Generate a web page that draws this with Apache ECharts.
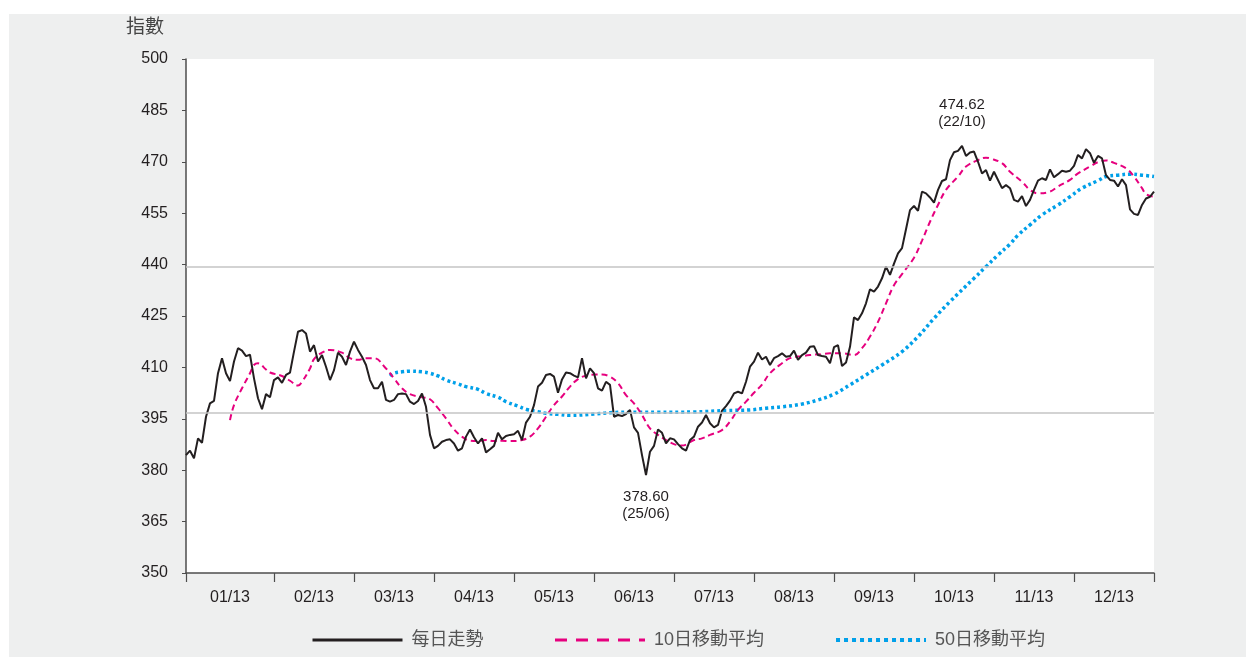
<!DOCTYPE html>
<html>
<head>
<meta charset="utf-8">
<script src="https://cdn.jsdelivr.net/npm/echarts@6/dist/echarts.min.js"></script>
<style>
  body { margin: 0; background: #fff; }
  #chart { position: absolute; left: 9px; top: 14px; width: 1237px; height: 643px; background: #eeefef; }
</style>
</head>
<body>
<div id="chart"></div>
<script>
// 月份標籤
const months = ['01/13', '02/13', '03/13', '04/13', '05/13', '06/13', '07/13', '08/13', '09/13', '10/13', '11/13', '12/13']

// 每日走勢 (按月)
const jan = [384.4, 385.7, 383.5, 389.3, 388.0, 395.6, 399.5, 400.2, 408.3, 412.7, 408.3, 406.0, 411.7, 415.6, 414.9, 413.3, 413.7, 406.8, 401.0, 397.8, 402.2, 401.3]
const feb = [406.3, 407.1, 405.5, 407.8, 408.5, 414.6, 420.4, 420.9, 419.9, 414.6, 416.5, 411.7, 413.6, 410.2, 406.3, 409.2, 414.3, 413.1, 410.7, 414.6]
const mar = [417.5, 415.1, 413.1, 410.7, 406.3, 403.9, 403.9, 405.8, 400.5, 400.0, 400.5, 402.2, 402.4, 402.2, 400.0, 399.3, 400.2, 402.4, 398.5, 390.3]
const apr = [386.4, 387.1, 388.3, 388.8, 389.0, 387.8, 385.7, 386.4, 389.8, 391.9, 389.6, 387.8, 389.3, 385.2, 386.1, 387.1, 390.9, 389.0, 390.0, 390.3]
const may = [390.5, 391.5, 388.8, 393.9, 395.6, 399.0, 404.4, 405.5, 407.8, 408.1, 407.3, 402.6, 406.5, 408.5, 408.3, 407.6, 407.1, 412.7, 406.8, 409.7]
const jun = [408.3, 403.9, 403.2, 405.8, 404.9, 395.6, 396.1, 395.8, 396.4, 397.6, 392.5, 390.9, 384.4, 378.6, 385.4, 387.1, 391.9, 390.9, 387.8, 389.3]
const jul = [389.0, 387.6, 386.4, 385.7, 388.8, 389.8, 392.7, 393.9, 396.1, 393.7, 392.5, 393.2, 397.4, 398.7, 400.3, 402.4, 402.9, 402.4, 405.8, 410.2]
const aug = [411.7, 414.3, 412.3, 413.1, 410.7, 412.7, 413.3, 414.1, 413.1, 413.3, 414.9, 412.2, 413.6, 414.3, 416.0, 416.2, 413.6, 413.3, 413.1, 411.2]
const sep = [415.9, 416.5, 410.4, 411.4, 416.0, 424.6, 423.8, 425.8, 428.7, 432.8, 432.1, 433.6, 436.0, 439.4, 437.0, 440.3, 443.3, 444.8, 450.3, 455.9]
const oct = [457.1, 455.7, 461.3, 460.8, 459.6, 458.1, 461.8, 464.4, 464.9, 470.5, 472.8, 473.2, 474.62, 471.7, 472.7, 473.0, 470.0, 466.6, 467.6, 464.5]
const nov = [467.1, 464.7, 462.3, 463.2, 462.3, 458.9, 458.4, 460.0, 457.1, 458.9, 461.8, 464.5, 465.2, 464.7, 467.8, 465.5, 466.4, 467.4, 467.1, 467.4]
const dec = [468.8, 472.0, 471.0, 473.7, 472.5, 469.7, 471.7, 471.0, 466.1, 464.7, 464.5, 462.8, 464.9, 463.2, 456.1, 454.8, 454.5, 457.4, 459.3, 459.8, 461.3]

// 10日移動平均 [日序, 數值]
const ma10 = [[11, 394.6], [12, 399.0], [14, 403.9], [16, 408.3], [17, 410.7], [18, 411.2], [20, 409.4], [21, 408.5], [24, 407.5], [26, 406.1], [28, 404.7], [29, 405.8], [31, 409.7], [32, 412.4], [34, 414.3], [36, 415.1], [39, 414.3], [41, 412.7], [43, 412.2], [45, 412.7], [47, 412.7], [50, 409.7], [52, 406.8], [54, 403.9], [56, 402.2], [59, 401.3], [61, 400.7], [63, 398.1], [65, 395.1], [67, 391.9], [69, 389.8], [71, 388.6], [73, 388.5], [75, 388.8], [77, 388.5], [79, 388.6], [81, 388.5], [84, 388.8], [86, 389.8], [88, 392.2], [90, 395.6], [92, 399.0], [94, 401.5], [96, 404.4], [98, 406.6], [100, 407.6], [102, 407.9], [104, 407.9], [106, 407.3], [108, 405.4], [110, 401.9], [112, 399.5], [114, 396.1], [116, 392.2], [118, 390.3], [120, 388.8], [122, 387.6], [124, 387.2], [127, 388.8], [129, 389.3], [131, 390.3], [134, 391.7], [136, 394.2], [138, 397.6], [140, 400.0], [142, 402.6], [144, 405.0], [146, 408.3], [149, 411.2], [151, 412.7], [154, 413.3], [156, 413.6], [159, 413.9], [161, 414.1], [164, 414.1], [167, 413.6], [169, 415.6], [171, 419.0], [173, 423.3], [175, 428.7], [177, 434.0], [179, 437.2], [182, 442.0], [184, 447.0], [186, 452.5], [188, 457.4], [190, 461.8], [193, 465.7], [195, 468.6], [198, 470.5], [200, 471.2], [201, 471.0], [204, 469.6], [206, 467.1], [209, 464.2], [211, 461.8], [213, 460.8], [216, 461.3], [218, 462.8], [221, 464.7], [223, 466.6], [226, 468.6], [228, 469.9], [230, 470.4], [232, 469.7], [235, 468.1], [237, 465.7], [239, 462.3], [240, 460.6], [242, 459.8]]

// 50日移動平均 [日序, 數值]
const ma50 = [[51, 407.5], [52, 408.3], [54, 408.7], [56, 408.9], [59, 408.7], [61, 408.3], [63, 407.5], [65, 406.3], [68, 405.2], [70, 404.4], [73, 403.6], [75, 402.4], [78, 401.3], [80, 400.0], [83, 398.7], [85, 397.8], [88, 397.1], [90, 396.6], [93, 396.3], [96, 396.0], [102, 396.4], [106, 396.8], [110, 396.9], [118, 396.9], [127, 397.0], [135, 397.4], [141, 397.6], [145, 398.1], [149, 398.5], [154, 399.3], [158, 400.5], [162, 402.2], [166, 404.9], [170, 407.8], [174, 410.7], [179, 414.6], [183, 419.0], [187, 424.3], [191, 429.2], [197, 436.0], [200, 439.4], [203, 442.8], [206, 446.0], [208, 448.6], [211, 451.6], [214, 454.5], [218, 457.4], [221, 459.8], [224, 462.3], [228, 464.5], [230, 465.7], [233, 466.1], [236, 466.4], [239, 466.1], [242, 465.7]]

// 參考水平線
const refLines = [396.8, 439.3]
// 高低點日期
const peakDate = '22/10'
const troughDate = '25/06'

const seriesNames = ['每日走勢', '10日移動平均', '50日移動平均']
const FONT = "'Liberation Sans', 'Noto Sans CJK TC', sans-serif"

const monthValues = [jan, feb, mar, apr, may, jun, jul, aug, sep, oct, nov, dec]
const daily = [].concat(...monthValues)
const days = daily.map((v, i) => String(i))

// 每月起點 (刻度) 與中點 (標籤)
const tickIdx = new Set()
const labelIdx = {}
let n = 0
monthValues.forEach((m, k) => {
  tickIdx.add(n)
  labelIdx[n + Math.floor(m.length / 2)] = months[k]
  n += m.length
})
tickIdx.add(n - 1)

const chart = echarts.init(document.getElementById('chart'))

chart.setOption({
  animation: false,
  textStyle: { fontFamily: FONT },
  grid: {
    left: 177,
    top: 45,
    width: 968,
    height: 514,
    show: true,
    backgroundColor: '#fff',
    borderWidth: 0
  },
  xAxis: {
    type: 'category',
    data: days,
    boundaryGap: false,
    axisLine: { lineStyle: { color: '#4d4d4d', width: 1.5 } },
    axisTick: {
      interval: (i) => tickIdx.has(i),
      length: 9,
      lineStyle: { color: '#4d4d4d', width: 1.2 }
    },
    axisLabel: {
      interval: (i) => labelIdx[i] !== undefined,
      formatter: (v, i) => labelIdx[i] || '',
      color: '#231f20',
      fontSize: 16,
      margin: 17,
      fontFamily: FONT
    },
    splitLine: { show: false }
  },
  yAxis: {
    type: 'value',
    min: 350,
    max: 500,
    interval: 15,
    name: '指數',
    nameLocation: 'end',
    nameGap: 31,
    nameTextStyle: {
      color: '#444',
      fontSize: 19,
      align: 'right',
      verticalAlign: 'middle',
      padding: [0, 22, 0, 0],
      fontFamily: FONT
    },
    axisLine: { show: true, lineStyle: { color: '#4d4d4d', width: 1.5 } },
    axisTick: { show: true, length: 4, lineStyle: { color: '#4d4d4d' } },
    axisLabel: { color: '#231f20', fontSize: 16, margin: 18, fontFamily: FONT },
    splitLine: { show: false }
  },
  legend: {
    left: 297,
    top: 612,
    itemWidth: 90,
    itemHeight: 14,
    itemGap: 70,
    itemStyle: { opacity: 0 },
    textStyle: { color: '#555', fontSize: 18, fontFamily: FONT, padding: [0, 0, 0, 4] },
    data: [
      { name: seriesNames[0], lineStyle: { width: 3 } },
      { name: seriesNames[1], lineStyle: { type: [12, 9], width: 3 } },
      { name: seriesNames[2], lineStyle: { type: [4, 4], width: 4 } }
    ]
  },
  series: [
    {
      name: seriesNames[0],
      type: 'line',
      data: daily,
      symbol: 'none',
      z: 3,
      lineStyle: { color: '#231f20', width: 2 },
      itemStyle: { color: '#231f20' },
      markLine: {
        silent: true,
        symbol: 'none',
        label: { show: false },
        lineStyle: { color: '#c4c4c4', width: 1.5, type: 'solid' },
        data: refLines.map(v => ({ yAxis: v }))
      },
      markPoint: {
        symbol: 'circle',
        symbolSize: 0,
        label: {
          show: true,
          color: '#231f20',
          fontSize: 15,
          lineHeight: 17,
          fontFamily: FONT,
          formatter: (p) => p.value.toFixed(2) + '\n(' + (p.data.type === 'max' ? peakDate : troughDate) + ')'
        },
        data: [
          { type: 'max', label: { position: 'top', distance: 16 } },
          { type: 'min', label: { position: 'bottom', distance: 13 } }
        ]
      }
    },
    {
      name: seriesNames[1],
      type: 'line',
      data: ma10,
      symbol: 'none',
      smooth: 0.4,
      z: 2,
      lineStyle: { color: '#e6007e', width: 2, type: [6, 4] },
      itemStyle: { color: '#e6007e' }
    },
    {
      name: seriesNames[2],
      type: 'line',
      data: ma50,
      symbol: 'none',
      smooth: 0.4,
      z: 1,
      lineStyle: { color: '#00a0e9', width: 3.5, type: [3, 3] },
      itemStyle: { color: '#00a0e9' }
    }
  ]
})
</script>
</body>
</html>
